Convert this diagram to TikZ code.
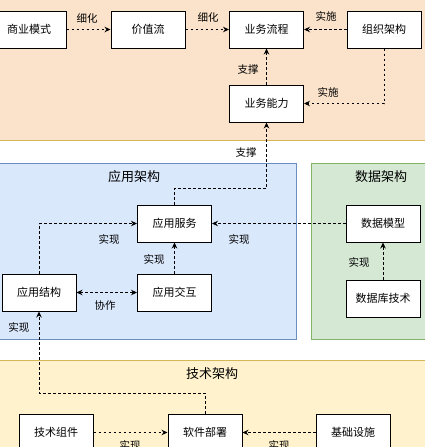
\documentclass[tikz,border=0pt]{standalone}
\usepackage{fontspec}
\setmainfont{Noto Sans CJK SC}
\usetikzlibrary{arrows.meta}
\definecolor{peach}{HTML}{FBE3CB}
\definecolor{peachline}{HTML}{D6B656}
\definecolor{appfill}{HTML}{DAE8FC}
\definecolor{appline}{HTML}{6C8EBF}
\definecolor{datafill}{HTML}{D5E8D4}
\definecolor{dataline}{HTML}{82B366}
\definecolor{techfill}{HTML}{FFF2CC}
\definecolor{techline}{HTML}{D6B656}
\tikzset{
  box/.style={draw=black, line width=1pt, fill=white, minimum width=74pt, minimum height=37pt, inner sep=0pt, font=\fontsize{11}{13}\selectfont},
  lbl/.style={inner sep=0pt, font=\fontsize{10.5}{12}\selectfont},
  ttl/.style={inner sep=0pt, font=\fontsize{13}{15}\selectfont},
  conn/.style={line width=0.9pt, dash pattern=on 2.5pt off 2.5pt, -{Stealth[length=6pt,width=5.5pt]}},
  band/.style={line width=0.8pt}
}
\begin{document}
\begin{tikzpicture}[x=1pt,y=-1pt]
\useasboundingbox (0,0) rectangle (425,447);
% bands
\fill[peach] (-5,-5) rectangle (430,140);
\draw[band,peachline] (-5,140) -- (430,140);
\draw[band,fill=appfill,draw=appline] (-5,163) rectangle (296,339);
\draw[band,fill=datafill,draw=dataline] (311,163) rectangle (430,339);
\draw[band,fill=techfill,draw=techline] (-5,360) rectangle (430,460);
% titles
\node[ttl] (tapp) at (134,177) {应用架构};
\node[ttl] (tdata) at (381,177) {数据架构};
\node[ttl] (ttech) at (212,374) {技术架构};
% boxes
\node[box] (bm) at (29,29.5) {商业模式};
\node[box] (vs) at (148,29.5) {价值流};
\node[box] (bp) at (266.5,29.5) {业务流程};
\node[box] (org) at (384,29.5) {组织架构};
\node[box] (bc) at (266.5,103.5) {业务能力};
\node[box] (as) at (174.5,223.5) {应用服务};
\node[box] (ast) at (39,292.5) {应用结构};
\node[box] (ai) at (174.5,292.5) {应用交互};
\node[box] (dm) at (383,223.5) {数据模型};
\node[box] (db) at (383,298.5) {数据库技术};
\node[box] (tc) at (56,432.5) {技术组件};
\node[box] (sd) at (205,432.5) {软件部署};
\node[box] (inf) at (353,432.5) {基础设施};
\coordinate (k1) at (266.5,188);
\coordinate (k2) at (39,393);
% connectors
\draw[conn] (bm) -- (vs);
\draw[conn] (vs) -- (bp);
\draw[conn] (org) -- (bp);
\draw[conn] (bc) -- (bp);
\draw[conn] (org.south) |- (bc.east);
\draw[conn] (as.north) |- (k1) -- (bc.south);
\draw[conn] (ast.north) |- (as.west);
\draw[conn] (ai) -- (as);
\draw[conn,{Stealth[length=6pt,width=5.5pt]}-{Stealth[length=6pt,width=5.5pt]}] (ast) -- (ai);
\draw[conn] (dm) -- (as);
\draw[conn] (db) -- (dm);
\draw[conn] (sd.north) |- (k2) -- (ast.south);
\draw[conn] (tc) -- (sd);
\draw[conn] (inf) -- (sd);
% labels
\node[lbl] (l1) at (87,18) {细化};
\node[lbl] (l2) at (208,17) {细化};
\node[lbl] (l3) at (326,16) {实施};
\node[lbl] (l4) at (248,70) {支撑};
\node[lbl] (l5) at (328,92) {实施};
\node[lbl] (l6) at (246,153) {支撑};
\node[lbl] (l7) at (109,239) {实现};
\node[lbl] (l8) at (154,259) {实现};
\node[lbl] (l9) at (105,306) {协作};
\node[lbl] (l10) at (239,239) {实现};
\node[lbl] (l11) at (359,262) {实现};
\node[lbl] (l12) at (19,327) {实现};
\node[lbl] (l13) at (130,445) {实现};
\node[lbl] (l14) at (279,445) {实现};
\end{tikzpicture}
\end{document}
